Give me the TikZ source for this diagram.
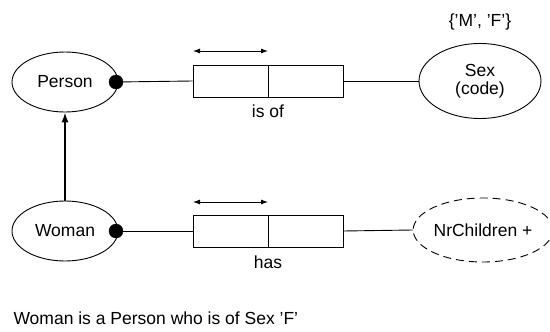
\documentclass[tikz,border=0pt]{standalone}
\usepackage{fontspec}
\setmainfont{Liberation Sans}
\usetikzlibrary{arrows.meta,shapes.geometric}
\begin{document}
\begin{tikzpicture}[x=1pt,y=-1pt,
  every node/.style={font=\fontsize{17.5}{19}\selectfont},
  entity/.style={draw,ellipse,line width=0.9pt,inner sep=0pt},
  roledot/.style={circle,fill=black,draw=black,minimum size=14pt,inner sep=0pt},
  rolebox/.style={draw,line width=0.9pt,minimum width=75pt,minimum height=32pt,inner sep=0pt},
  conn/.style={line width=0.9pt},
  uniq/.style={line width=0.9pt,{Latex[length=7pt,width=5pt]}-{Latex[length=7pt,width=5pt]}},
  subtype/.style={line width=1.5pt,-{Latex[length=10pt,width=7pt]}}]
\useasboundingbox (0,0) rectangle (550,332);
% entity types
\node[entity,minimum width=106pt,minimum height=60pt] (person) at (65,82) {Person};
\node[entity,minimum width=106pt,minimum height=60pt] (woman) at (65,231) {Woman};
\node[entity,minimum width=122pt,minimum height=75pt,align=center] (sex) at (480,81) {Sex\\[-1pt](code)};
\node[entity,dash pattern=on 8pt off 5pt,minimum width=128pt,minimum height=64pt] (nrc) at (483,230) {NrChildren +};
\node (vals) at (480,22) {\{'M', 'F'\}};
% fact type "is of"
\node[rolebox] (r1a) at (230.5,81) {};
\node[rolebox] (r1b) at (305.5,81) {};
\node (lab1) at (268,111) {is of};
\coordinate (u1a) at (193,51);
\coordinate (u1b) at (268,51);
\draw[uniq] (u1a) -- (u1b);
\node[roledot] (d1) at (116,82) {};
\draw[conn] (d1) -- (r1a.west);
\draw[conn] (r1b.east) -- (sex.west);
% fact type "has"
\node[rolebox] (r2a) at (230.5,231) {};
\node[rolebox] (r2b) at (305.5,231) {};
\node (lab2) at (268,262) {has};
\coordinate (u2a) at (193,202);
\coordinate (u2b) at (268,202);
\draw[uniq] (u2a) -- (u2b);
\node[roledot] (d2) at (116,231) {};
\draw[conn] (d2) -- (r2a.west);
\draw[conn] (r2b.east) -- (nrc.west);
% subtype link
\draw[subtype] (woman.north) -- (person.south);
% subtype definition
\node[anchor=west] (def) at (10,318) {Woman is a Person who is of Sex 'F'};
\end{tikzpicture}
\end{document}
